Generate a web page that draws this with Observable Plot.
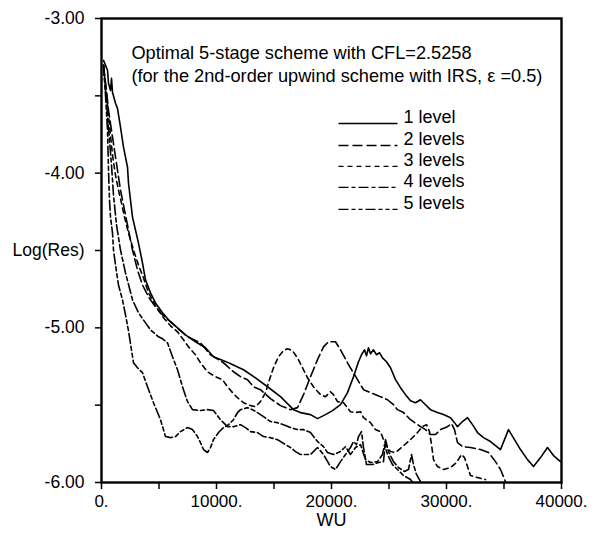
<!DOCTYPE html>
<html>
<head>
<meta charset="utf-8">
<script src="https://cdn.jsdelivr.net/npm/d3@7"></script>
<script src="https://cdn.jsdelivr.net/npm/@observablehq/plot@0.6"></script>
<style>
html,body{margin:0;padding:0;background:#fff;}
#chart svg{display:block;}
</style>
</head>
<body>
<div id="chart"></div>
<script>
// ---- data (WU, log10 residual) ----
const level1 = [[174,-3.271],[522,-3.335],[609,-3.419],[783,-3.465],[870,-3.387],[957,-3.477],[1217,-3.548],[1391,-3.581],[1652,-3.703],[1913,-3.832],[2261,-3.961],[2348,-4.065],[2522,-4.174],[2696,-4.284],[2957,-4.368],[3217,-4.452],[3565,-4.581],[3826,-4.690],[4261,-4.774],[4696,-4.839],[5304,-4.903],[5826,-4.948],[6609,-5.000],[7304,-5.045],[8174,-5.090],[9043,-5.129],[9739,-5.187],[11043,-5.226],[12348,-5.271],[13391,-5.323],[14435,-5.381],[15565,-5.445],[16696,-5.529],[17304,-5.548],[18174,-5.561],[18783,-5.587],[19478,-5.561],[20087,-5.535],[20783,-5.497],[21391,-5.419],[21913,-5.316],[22348,-5.219],[22609,-5.174],[22870,-5.142],[23043,-5.181],[23217,-5.129],[23391,-5.168],[23652,-5.142],[23913,-5.174],[24174,-5.161],[24435,-5.194],[24783,-5.219],[25130,-5.258],[25565,-5.335],[26000,-5.387],[26435,-5.432],[26870,-5.471],[27304,-5.484],[27739,-5.465],[28174,-5.497],[28609,-5.529],[29217,-5.548],[29739,-5.561],[30348,-5.581],[30696,-5.613],[30957,-5.639],[31391,-5.606],[31826,-5.581],[32261,-5.626],[32696,-5.677],[33217,-5.710],[33826,-5.735],[34696,-5.787],[35043,-5.723],[35391,-5.658],[35913,-5.723],[36435,-5.787],[37043,-5.852],[37565,-5.897],[38174,-5.839],[38783,-5.774],[39304,-5.826],[39913,-5.865]];

const level2 = [[174,-3.303],[435,-3.465],[609,-3.594],[870,-3.723],[1130,-3.852],[1391,-3.981],[1652,-4.110],[2000,-4.239],[2348,-4.368],[2696,-4.497],[3130,-4.626],[3565,-4.723],[4087,-4.800],[4696,-4.865],[5304,-4.916],[6000,-4.961],[6870,-5.019],[7478,-5.058],[8609,-5.097],[9478,-5.174],[10609,-5.226],[11478,-5.284],[12087,-5.316],[12696,-5.335],[13217,-5.381],[13826,-5.400],[14696,-5.458],[15565,-5.503],[16435,-5.529],[17043,-5.516],[17565,-5.432],[18174,-5.316],[18783,-5.206],[19304,-5.123],[19739,-5.090],[20348,-5.090],[20783,-5.142],[21391,-5.226],[22261,-5.335],[22783,-5.400],[23391,-5.419],[24261,-5.445],[24870,-5.465],[25391,-5.497],[25739,-5.529],[26261,-5.548],[26870,-5.594],[27739,-5.639],[28174,-5.658],[28609,-5.690],[29043,-5.690],[29478,-5.658],[30087,-5.639],[30435,-5.619],[30696,-5.658],[30957,-5.742],[31391,-5.768],[32087,-5.774],[32957,-5.787],[33652,-5.806],[34261,-5.865],[34696,-5.916],[35130,-5.994]];

const level3 = [[174,-3.303],[435,-3.497],[696,-3.690],[957,-3.884],[1217,-4.013],[1478,-4.110],[1739,-4.194],[2000,-4.284],[2348,-4.387],[2783,-4.497],[3217,-4.594],[3652,-4.677],[4087,-4.774],[4696,-4.858],[5391,-4.935],[6000,-4.987],[6609,-5.026],[7130,-5.077],[7565,-5.123],[8174,-5.174],[8609,-5.226],[9217,-5.284],[9913,-5.316],[10522,-5.335],[10957,-5.381],[11391,-5.419],[11826,-5.452],[12348,-5.484],[12957,-5.503],[13391,-5.510],[13826,-5.477],[14261,-5.419],[14522,-5.355],[14957,-5.258],[15391,-5.187],[15826,-5.148],[16174,-5.135],[16609,-5.148],[17043,-5.194],[17478,-5.258],[17913,-5.323],[18435,-5.381],[19043,-5.432],[19478,-5.445],[19913,-5.413],[20174,-5.432],[20522,-5.477],[21043,-5.484],[21652,-5.542],[22087,-5.548],[22522,-5.542],[22783,-5.581],[23391,-5.613],[23826,-5.658],[24261,-5.671],[24522,-5.723],[24870,-5.774],[25130,-5.800],[25565,-5.806],[26174,-5.768],[26870,-5.723],[27478,-5.677],[27913,-5.639],[28261,-5.626],[28522,-5.671],[28696,-5.755],[28870,-5.852],[29217,-5.897],[29739,-5.916],[30348,-5.903],[30870,-5.871],[31304,-5.819],[31565,-5.839],[31826,-5.897],[32087,-5.955],[32696,-5.968],[33391,-5.981]];

const level4 = [[174,-3.303],[348,-3.465],[522,-3.626],[696,-3.787],[870,-3.948],[1043,-4.142],[1304,-4.335],[1652,-4.497],[2087,-4.645],[2696,-4.819],[3217,-4.903],[3826,-4.968],[4261,-5.013],[4957,-5.058],[5304,-5.071],[5739,-5.097],[6174,-5.187],[6609,-5.271],[7043,-5.381],[7478,-5.477],[7913,-5.529],[8609,-5.535],[9217,-5.529],[9739,-5.535],[10348,-5.594],[10957,-5.639],[11478,-5.639],[12087,-5.626],[12522,-5.645],[12957,-5.671],[13565,-5.677],[14087,-5.703],[14696,-5.710],[15304,-5.723],[16000,-5.755],[16435,-5.774],[16870,-5.800],[17304,-5.819],[18174,-5.819],[18783,-5.774],[19304,-5.819],[19913,-5.897],[20348,-5.916],[20783,-5.865],[21217,-5.819],[21652,-5.774],[21913,-5.735],[22174,-5.755],[22348,-5.703],[22609,-5.671],[22783,-5.774],[23043,-5.884],[23565,-5.884],[24087,-5.871],[24522,-5.865],[24696,-5.723],[24957,-5.800],[25391,-5.865],[25826,-5.903],[26348,-5.929],[26696,-5.916],[26957,-5.819],[27130,-5.884],[27391,-5.948],[27739,-5.994]];

const level5 = [[174,-3.303],[348,-3.497],[522,-3.723],[609,-3.981],[696,-4.174],[783,-4.284],[957,-4.387],[1043,-4.497],[1217,-4.594],[1478,-4.723],[1826,-4.819],[2087,-4.916],[2348,-5.019],[2783,-5.226],[3130,-5.258],[3565,-5.290],[4000,-5.381],[4522,-5.484],[5130,-5.594],[5565,-5.703],[6000,-5.710],[6435,-5.703],[6870,-5.671],[7478,-5.645],[7913,-5.658],[8348,-5.703],[8609,-5.742],[8870,-5.787],[9217,-5.806],[9478,-5.774],[9739,-5.723],[10174,-5.677],[10609,-5.645],[11043,-5.626],[11478,-5.594],[11826,-5.548],[12087,-5.529],[12696,-5.516],[13130,-5.529],[13565,-5.548],[14087,-5.574],[14696,-5.606],[15304,-5.613],[15826,-5.626],[16435,-5.645],[17043,-5.658],[17565,-5.658],[18174,-5.677],[18783,-5.735],[19304,-5.768],[19652,-5.806],[20174,-5.819],[20783,-5.800],[21217,-5.768],[21652,-5.819],[22087,-5.774],[22522,-5.755],[22957,-5.852],[23391,-5.871],[24000,-5.865],[24435,-5.819],[24609,-5.755],[24870,-5.819],[25304,-5.884],[25739,-5.916],[26261,-5.955],[26870,-5.981],[27130,-6.006]];

const seriesNames = ["1 level", "2 levels", "3 levels", "4 levels", "5 levels"];
const seriesDash  = [null, "10,4", "5,4", "10,3,4,3", "10,3,4,3,4,3"];
const yTicks = [-6, -5.5, -5, -4.5, -4, -3.5, -3];
const xTicks = [0, 5000, 10000, 15000, 20000, 25000, 30000, 35000, 40000];
const titleLines = ["Optimal 5-stage scheme with CFL=2.5258", "(for the 2nd-order upwind scheme with IRS, \u03b5 =0.5)"];
const titleX = 2600, titleY = [-3.226, -3.374];
const legendX1 = 20609, legendX2 = 25739, legendTextX = 26261;
const legendY = [-3.639, -3.781, -3.916, -4.052, -4.194];

const all = [level1, level2, level3, level4, level5];
const font = "'Liberation Sans', Arial, Helvetica, sans-serif";

const marks = [];
all.forEach((s, i) => {
  marks.push(Plot.line(s, {x: d => d[0], y: d => d[1], stroke: "black", strokeWidth: 1.6,
    strokeDasharray: seriesDash[i] || undefined, clip: true, curve: "linear"}));
});
// legend
const legendRows = seriesNames.map((n, i) => ({name: n, y: legendY[i], dash: seriesDash[i]}));
legendRows.forEach((r, i) => {
  marks.push(Plot.link([r], {x1: legendX1, x2: legendX2, y1: d => d.y - 0.04, y2: d => d.y - 0.04,
    stroke: "black", strokeWidth: 1.3, strokeDasharray: r.dash || undefined}));
});
marks.push(Plot.text(legendRows, {x: legendTextX, y: "y", text: "name", textAnchor: "start", fontSize: 18, fill: "black"}));
marks.push(Plot.text(titleLines, {x: titleX, y: (d, i) => titleY[i], text: d => d, textAnchor: "start", fontSize: 18.2, fill: "black"}));
marks.push(Plot.frame({stroke: "black", strokeWidth: 2.4}));
marks.push(Plot.axisY({ticks: yTicks, tickSize: 6, tickPadding: 11, fontSize: 17.5,
  tickFormat: d => Number.isInteger(d) ? d.toFixed(2) : (d === -4.5 ? "Log(Res)" : ""), label: null, strokeWidth: 1.5}));
marks.push(Plot.axisX({ticks: xTicks, tickSize: 7, tickPadding: 5, fontSize: 17,
  tickFormat: d => d % 10000 === 0 ? d + "." : "", label: null, strokeWidth: 1.5}));
marks.push(Plot.text(["WU"], {frameAnchor: "bottom", dy: 43, fontSize: 18, fill: "black"}));

const chart = Plot.plot({
  width: 593, height: 534,
  marginLeft: 101, marginRight: 32, marginTop: 18, marginBottom: 52,
  x: {domain: [0, 40000]},
  y: {domain: [-6, -3]},
  style: {fontFamily: font, background: "white", color: "black", fontSize: "17.5px"},
  marks
});
document.getElementById("chart").appendChild(chart);
</script>
</body>
</html>
